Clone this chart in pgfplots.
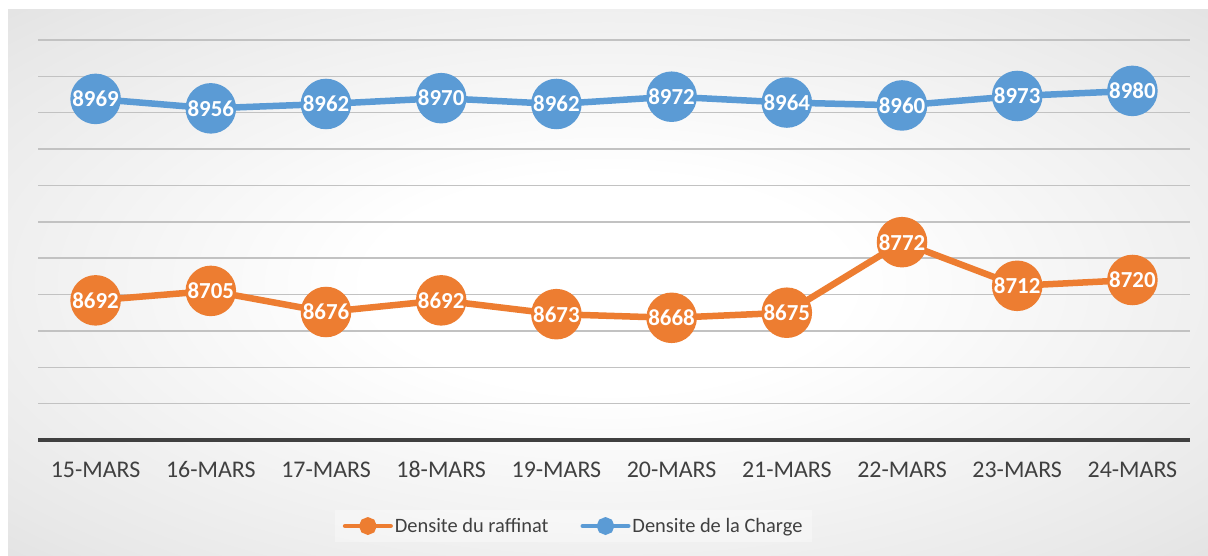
\documentclass[border=0pt]{standalone}
\usepackage{fontspec}
\setmainfont{Carlito}
\usepackage{pgfplots}
\pgfplotsset{compat=1.18}
\usetikzlibrary{backgrounds}
\definecolor{cblue}{HTML}{5B9BD5}
\definecolor{corange}{HTML}{ED7D31}
\definecolor{txt}{HTML}{404040}
\pgfdeclareradialshading{bgshade}{\pgfpoint{0bp}{0bp}}{%
  color(0bp)=(white); color(10bp)=(white); color(32bp)=(black!9);
  color(50bp)=(black!18); color(72bp)=(black!26)}

\begin{document}
\begin{tikzpicture}[x=1bp,y=1bp]
\useasboundingbox (-38,-116) rectangle (1170,440);
\begin{scope}[on background layer]
  \shade[shading=bgshade] (-30,-116) rectangle (1170,430);
\end{scope}
\begin{axis}[
    at={(0,0)}, anchor=south west,
    scale only axis,
    width=1152bp, height=400bp,
    xmin=-0.5, xmax=9.5,
    ymin=8500, ymax=9050,
    xtick={0,...,9},
    xticklabels={15-MARS,16-MARS,17-MARS,18-MARS,19-MARS,20-MARS,21-MARS,22-MARS,23-MARS,24-MARS},
    x tick label style={font=\fontsize{24}{26}\selectfont, text=txt, yshift=-18bp},
    major tick length=0pt,
    ytick={8550,8600,...,9050},
    yticklabels={},
    ymajorgrids,
    grid style={black!24, line width=1.5bp},
    axis x line*=bottom,
    axis y line*=left,
    y axis line style={draw=none},
    x axis line style={txt, line width=4bp, -},
    clip=false,
    nodes near coords,
    every node near coord/.append style={anchor=center, text=white, font=\fontsize{23}{25}\selectfont\bfseries},
    legend columns=2,
    legend style={at={(0.465,-0.175)}, anchor=north, draw=none, fill=white, fill opacity=0.35, text opacity=1,
      font=\fontsize{20.5}{23}\selectfont, text=txt, inner xsep=8bp, inner ysep=6bp,
      /tikz/every even column/.append style={column sep=30bp}},
    legend image code/.code={
      \draw[line width=4bp, line cap=round] (0bp,0bp) -- (46bp,0bp);
      \fill (23bp,0bp) circle (5.5bp);
    },
]
\addplot[corange, line width=6.5bp, mark=*, mark size=22bp, point meta=explicit symbolic] coordinates {
    (0,8692) [8692] (1,8705) [8705] (2,8676) [8676] (3,8692) [8692] (4,8673) [8673]
    (5,8668) [8668] (6,8675) [8675] (7,8772) [8772] (8,8712) [8712] (9,8720) [8720]
};
\addlegendentry{Densite du raffinat}
\addplot[cblue, line width=6.5bp, mark=*, mark size=22bp, point meta=explicit symbolic] coordinates {
    (0,8969) [8969] (1,8956) [8956] (2,8962) [8962] (3,8970) [8970] (4,8962) [8962]
    (5,8972) [8972] (6,8964) [8964] (7,8960) [8960] (8,8973) [8973] (9,8980) [8980]
};
\addlegendentry{Densite de la Charge}
\end{axis}
\end{tikzpicture}
\end{document}
